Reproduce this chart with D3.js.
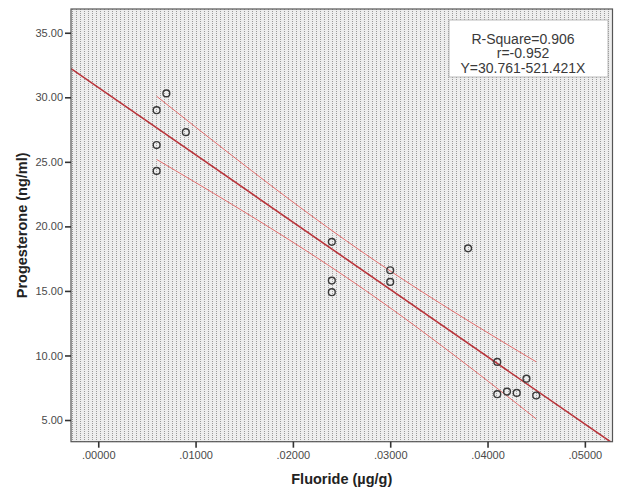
<!DOCTYPE html>
<html>
<head>
<meta charset="utf-8">
<script src="https://cdn.jsdelivr.net/npm/d3@7/dist/d3.min.js"></script>
<style>
  html, body { margin: 0; padding: 0; background: #fff; }
  svg { display: block; font-family: "Liberation Sans", Arial, sans-serif; }
</style>
</head>
<body>
<svg id="chart" width="619" height="491"></svg>
<script>
// ---- Data ----
const fluoride = [0.007, 0.006, 0.009, 0.006, 0.006, 0.024, 0.024, 0.024, 0.030, 0.030, 0.038, 0.041, 0.041, 0.042, 0.043, 0.044, 0.045];
const progesterone = [30.3, 29.0, 27.3, 26.3, 24.3, 18.8, 15.8, 14.9, 16.6, 15.7, 18.3, 9.5, 7.0, 7.2, 7.1, 8.2, 6.9];
const xTicks = [0.00, 0.01, 0.02, 0.03, 0.04, 0.05];
const yTicks = [5, 10, 15, 20, 25, 30, 35];
const fitIntercept = 30.761;
const fitSlope = -521.421;
const statLines = ["R-Square=0.906", "r=-0.952", "Y=30.761-521.421X"];
const xTitle = "Fluoride (µg/g)";
const yTitle = "Progesterone (ng/ml)";

// ---- Layout ----
const svg = d3.select("#chart");
const plot = { left: 71, top: 9, right: 612.5, bottom: 441.7 };

const x = d3.scaleLinear().domain([-0.0028, 0.05284]).range([plot.left, plot.right]);
const y = d3.scaleLinear().domain([3.32, 36.84]).range([plot.bottom, plot.top]);

const defs = svg.append("defs");
const pat = defs.append("pattern").attr("id", "dots")
  .attr("patternUnits", "userSpaceOnUse").attr("width", 4).attr("height", 2)
  .attr("x", plot.left).attr("y", plot.top);
pat.append("rect").attr("width", 4).attr("height", 2).attr("fill", "#eeeeee");
pat.append("rect").attr("x", 1).attr("y", 0).attr("width", 1).attr("height", 1).attr("fill", "#9a9a9a");

defs.append("clipPath").attr("id", "clip").append("rect")
  .attr("x", plot.left).attr("y", plot.top)
  .attr("width", plot.right - plot.left).attr("height", plot.bottom - plot.top);

// plot background
svg.append("rect")
  .attr("x", plot.left).attr("y", plot.top)
  .attr("width", plot.right - plot.left).attr("height", plot.bottom - plot.top)
  .attr("fill", "url(#dots)");

// ---- Fit line and 95% CI of the mean ----
const n = fluoride.length;
const xbar = d3.mean(fluoride);
const Sxx = d3.sum(fluoride, v => (v - xbar) ** 2);
const sse = d3.sum(fluoride, (v, i) => (progesterone[i] - (fitIntercept + fitSlope * v)) ** 2);
const s = Math.sqrt(sse / (n - 2));
const tval = 2.131;
const fx = v => fitIntercept + fitSlope * v;

const g = svg.append("g").attr("clip-path", "url(#clip)");
const line = d3.line().x(d => x(d[0])).y(d => y(d[1]));

const xmin = d3.min(fluoride), xmax = d3.max(fluoride);
const ciSteps = d3.range(0, 41).map(i => xmin + (xmax - xmin) * i / 40);
const half = v => tval * s * Math.sqrt(1 / n + (v - xbar) ** 2 / Sxx);
g.append("path").attr("d", line(ciSteps.map(v => [v, fx(v) + half(v)])))
  .attr("fill", "none").attr("stroke", "#e36b6b").attr("stroke-width", 1);
g.append("path").attr("d", line(ciSteps.map(v => [v, fx(v) - half(v)])))
  .attr("fill", "none").attr("stroke", "#e36b6b").attr("stroke-width", 1);

const xd = x.domain();
g.append("path").attr("d", line([[xd[0], fx(xd[0])], [xd[1], fx(xd[1])]]))
  .attr("fill", "none").attr("stroke", "#b8343a").attr("stroke-width", 1.6);

// points
g.selectAll("circle.pt").data(fluoride).enter().append("circle")
  .attr("class", "pt")
  .attr("cx", d => x(d)).attr("cy", (d, i) => y(progesterone[i]))
  .attr("r", 3.4).attr("fill", "none").attr("stroke", "#3a3a3a").attr("stroke-width", 1.4);

// frame
svg.append("rect")
  .attr("x", plot.left).attr("y", plot.top)
  .attr("width", plot.right - plot.left).attr("height", plot.bottom - plot.top)
  .attr("fill", "none").attr("stroke", "#555").attr("stroke-width", 1.2);

// ---- Axes ----
const yAxis = d3.axisLeft(y).tickValues(yTicks).tickFormat(d3.format(".2f")).tickSize(6).tickPadding(2);
const ya = svg.append("g").attr("transform", `translate(${plot.left},0)`).call(yAxis);
const xAxis = d3.axisBottom(x).tickValues(xTicks).tickFormat(d => d3.format(".5f")(d).replace(/^0/, "")).tickSize(6).tickPadding(4);
const xa = svg.append("g").attr("transform", `translate(0,${plot.bottom})`).call(xAxis);
[ya, xa].forEach(a => {
  a.select(".domain").remove();
  a.selectAll(".tick line").attr("stroke", "#333").attr("stroke-width", 1.6);
  a.selectAll(".tick text").attr("fill", "#4a4a4a").style("font-size", "11px")
    .style("font-family", "'Liberation Sans', Arial, sans-serif");
});

// titles
svg.append("text").attr("x", (plot.left + plot.right) / 2).attr("y", 484)
  .attr("text-anchor", "middle").style("font-size", "14.5px").style("font-weight", "bold")
  .attr("fill", "#222").text(xTitle);
svg.append("text").attr("transform", `translate(27,${(plot.top + plot.bottom) / 2}) rotate(-90)`)
  .attr("text-anchor", "middle").style("font-size", "14.5px").style("font-weight", "bold")
  .attr("fill", "#222").text(yTitle);

// stats box
svg.append("rect").attr("x", 449).attr("y", 20).attr("width", 159).attr("height", 57)
  .attr("fill", "#fff").attr("stroke", "#aaa").attr("stroke-width", 0.8);
svg.append("g").selectAll("text").data(statLines).enter().append("text")
  .attr("x", 523).attr("y", (d, i) => 43.5 + i * 14.5)
  .attr("text-anchor", "middle").style("font-size", "14px").attr("fill", "#3a3a3a")
  .text(d => d);
</script>
</body>
</html>
